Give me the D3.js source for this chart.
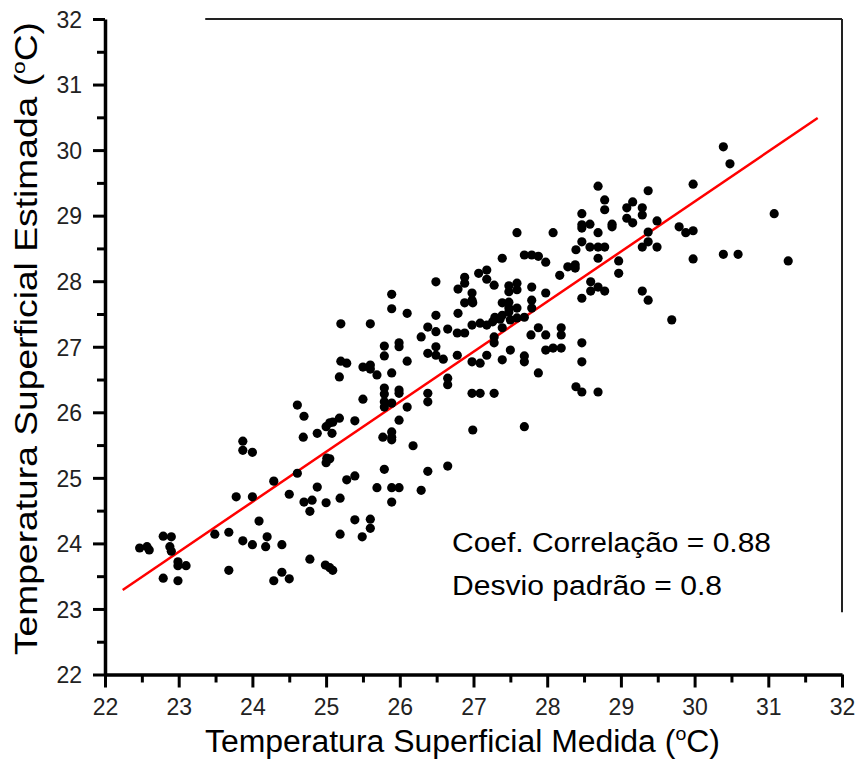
<!DOCTYPE html>
<html>
<head>
<meta charset="utf-8">
<script src="https://cdn.jsdelivr.net/npm/d3@7"></script>
<style>
  html, body { margin: 0; padding: 0; background: #fff; }
  svg { display: block; }
  text { font-family: "Liberation Sans", Arial, sans-serif; }
</style>
</head>
<body>
<svg id="chart" width="858" height="760"></svg>
<script>
// ---- data ----
const measured = [
  25.18,24.61,24.70,24.88,24.69,25.00,25.05,25.09,25.18,25.08,23.87,23.87,24.00,25.01,25.05,25.00,24.61,24.29,25.28,24.88,
  24.50,23.78,24.00,24.70,24.81,25.00,25.19,24.78,24.09,23.49,23.68,25.19,23.87,24.00,24.20,24.18,24.40,22.79,22.90,22.88,
  22.90,22.47,22.57,22.60,22.99,22.99,23.10,24.78,24.99,25.05,25.09,23.68,22.79,22.99,24.29,24.40,24.50,
  26.49,25.89,25.89,26.10,26.49,25.20,25.60,26.38,26.49,26.65,26.29,25.99,25.99,25.79,25.79,26.49,26.38,26.49,26.59,26.10,
  25.20,25.28,25.50,25.60,25.60,25.69,25.89,26.65,26.65,25.79,25.79,25.79,25.79,25.99,25.99,26.38,26.38,25.50,25.89,26.10,
  25.99,25.39,25.77,25.89,25.89,25.89,26.18,25.79,26.38,26.65,25.39,25.69,25.89,25.99,26.29,25.89,
  25.39,25.60,25.60,25.49,
  27.59,28.08,27.69,27.79,27.88,27.98,27.39,27.07,27.18,27.18,26.88,26.88,27.28,27.59,27.48,27.48,27.59,26.79,26.98,26.98,
  26.88,26.99,27.79,27.98,27.39,27.48,27.48,27.48,27.59,27.79,27.79,26.79,26.78,26.88,26.98,27.09,27.18,27.29,27.39,27.26,
  27.36,27.50,27.59,27.69,27.39,27.28,27.28,27.88,27.98,27.78,28.19,28.19,26.78,26.98,27.09,27.18,27.39,27.50,27.69,27.69,
  27.98,28.08,28.19,27.88,26.98,27.09,27.28,26.99,27.69,28.17,
  30.39,30.48,28.69,29.98,29.37,28.78,28.78,29.16,29.29,29.08,29.29,28.47,29.49,29.08,29.16,28.88,28.88,28.47,28.58,28.47,
  28.69,29.37,29.37,29.79,29.88,29.98,28.47,29.29,29.49,28.58,28.69,28.78,28.39,31.08,28.69,28.97,29.98,30.39,30.59,31.27,
  28.28,28.38,28.38,28.97,28.59,28.59,28.69,28.78,28.47,29.29,29.37,29.69,28.47,28.47,28.39,28.47,28.69
];
const estimated = [
  26.54,26.11,25.94,25.68,25.62,25.78,25.84,25.85,25.91,25.68,25.56,25.42,25.39,25.30,25.29,25.23,25.07,24.95,24.97,24.86,
  24.75,24.71,24.71,24.63,24.66,24.62,24.69,24.49,24.34,24.14,24.17,24.14,24.04,23.98,24.10,23.95,23.98,24.11,24.10,23.95,
  23.88,23.93,23.95,23.90,23.72,23.66,23.66,23.76,23.67,23.63,23.59,23.59,23.47,23.43,23.43,23.56,23.46,
  27.99,27.80,27.58,27.51,27.48,27.35,27.35,27.30,27.23,27.27,27.15,27.06,27.00,27.01,26.86,27.00,26.90,26.87,26.81,26.78,
  26.78,26.75,26.69,26.72,26.66,26.57,26.60,26.52,26.42,26.37,26.28,26.16,26.08,26.34,26.29,26.29,26.16,26.20,26.14,26.08,
  25.88,25.87,25.62,25.70,25.62,25.58,25.49,25.13,25.10,25.18,25.03,24.85,24.85,24.85,24.81,24.63,
  24.36,24.37,24.23,24.10,
  28.74,28.74,28.40,28.40,28.38,28.29,28.35,28.12,28.17,28.03,28.06,27.97,27.94,27.97,27.93,27.84,27.87,27.88,27.82,27.71,
  27.67,27.67,27.91,27.82,27.67,27.68,27.59,27.53,27.59,27.71,27.59,27.51,27.21,27.21,27.33,27.36,27.33,27.45,27.48,27.38,
  27.42,27.41,27.44,27.45,27.29,27.15,27.06,27.29,27.18,27.18,27.29,27.18,26.87,26.77,26.75,26.87,26.80,26.95,26.86,26.77,
  26.95,26.98,26.98,26.60,26.29,26.29,26.29,25.73,25.78,28.09,
  30.05,29.79,29.45,29.48,29.38,29.24,29.09,29.21,29.12,29.12,29.01,29.03,28.92,28.96,28.89,28.87,28.83,28.86,28.87,28.81,
  28.74,28.75,28.60,28.83,28.74,28.77,28.60,28.52,28.52,28.52,28.52,28.52,28.48,29.03,28.35,28.31,28.34,28.41,28.41,28.31,
  28.22,28.25,28.20,28.12,27.99,27.85,27.91,27.85,27.74,27.85,27.71,27.41,27.06,26.77,26.39,26.31,26.31
];
const fitX = [22.24, 31.67];
const fitY = [23.29, 30.49];
const majorTicks = [22,23,24,25,26,27,28,29,30,31,32];
const minorTicks = [22.5,23.5,24.5,25.5,26.5,27.5,28.5,29.5,30.5,31.5];
const xTitle = "Temperatura Superficial Medida (";
const yTitle = "Temperatura Superficial Estimada (";
const annotation = ["Coef. Correlação = 0.88", "Desvio padrão = 0.8"];

// ---- drawing ----
const svg = d3.select("#chart");
const x = d3.scaleLinear().domain([22, 32]).range([105, 842]);
const y = d3.scaleLinear().domain([22, 32]).range([674.5, 19]);

// partial frame (top and right)
svg.append("line").attr("x1", x(23.36)).attr("x2", x(32)).attr("y1", y(32)).attr("y2", y(32))
  .attr("stroke", "#222").attr("stroke-width", 2);
svg.append("line").attr("x1", x(32)).attr("x2", x(32)).attr("y1", y(32)).attr("y2", y(22.95))
  .attr("stroke", "#222").attr("stroke-width", 2);

// regression line
svg.append("line")
  .attr("x1", x(fitX[0])).attr("y1", y(fitY[0]))
  .attr("x2", x(fitX[1])).attr("y2", y(fitY[1]))
  .attr("stroke", "#ff0000").attr("stroke-width", 2.5);

// points
const pts = measured.map((v, i) => [v, estimated[i]]);
svg.append("g").selectAll("circle").data(pts).join("circle")
  .attr("cx", d => x(d[0])).attr("cy", d => y(d[1])).attr("r", 4.6)
  .attr("fill", "#000");

// axes
const xAxis = svg.append("g").attr("transform", `translate(0,${y(22)})`)
  .call(d3.axisBottom(x).tickValues(majorTicks).tickSize(13).tickSizeOuter(0).tickFormat(d3.format("d")));
const xMinor = svg.append("g").attr("transform", `translate(0,${y(22)})`)
  .call(d3.axisBottom(x).tickValues(minorTicks).tickSize(8).tickSizeOuter(0).tickFormat(""));
const yAxis = svg.append("g").attr("transform", `translate(${x(22)},0)`)
  .call(d3.axisLeft(y).tickValues(majorTicks).tickSize(12).tickSizeOuter(0).tickFormat(d3.format("d")));
const yMinor = svg.append("g").attr("transform", `translate(${x(22)},0)`)
  .call(d3.axisLeft(y).tickValues(minorTicks).tickSize(8).tickSizeOuter(0).tickFormat(""));

[xAxis, xMinor, yAxis, yMinor].forEach(g => {
  g.select(".domain").attr("stroke", "#000").attr("stroke-width", 3.5);
  g.selectAll(".tick line").attr("stroke", "#000").attr("stroke-width", 3);
});
xMinor.select(".domain").remove();
yMinor.select(".domain").remove();

xAxis.selectAll(".tick text")
  .attr("y", 0).attr("dy", 0).attr("transform", "translate(0,40)")
  .attr("font-size", 23).attr("fill", "#222")
  .attr("font-family", "'Liberation Sans', Arial, sans-serif");
yAxis.selectAll(".tick text")
  .attr("x", -23).attr("dy", "0.36em")
  .attr("font-size", 23).attr("fill", "#222")
  .attr("font-family", "'Liberation Sans', Arial, sans-serif");

// axis titles
const xt = svg.append("text").attr("x", 205).attr("y", 752)
  .attr("font-size", 31).attr("fill", "#000")
  .attr("textLength", 515).attr("lengthAdjust", "spacingAndGlyphs");
xt.append("tspan").text(xTitle);
xt.append("tspan").attr("font-size", 19).attr("dy", -12).text("o");
xt.append("tspan").attr("dy", 12).text("C)");

const yt = svg.append("text")
  .attr("transform", "translate(37,655) rotate(-90)")
  .attr("x", 0).attr("y", 0)
  .attr("font-size", 31).attr("fill", "#000")
  .attr("textLength", 633).attr("lengthAdjust", "spacingAndGlyphs");
yt.append("tspan").text(yTitle);
yt.append("tspan").attr("font-size", 19).attr("dy", -12).text("o");
yt.append("tspan").attr("dy", 12).text("C)");

// annotation
svg.append("text").attr("x", 452).attr("y", 552).attr("font-size", 27).attr("fill", "#000")
  .attr("textLength", 319).attr("lengthAdjust", "spacingAndGlyphs").text(annotation[0]);
svg.append("text").attr("x", 452).attr("y", 595).attr("font-size", 27).attr("fill", "#000")
  .attr("textLength", 270).attr("lengthAdjust", "spacingAndGlyphs").text(annotation[1]);
</script>
</body>
</html>
